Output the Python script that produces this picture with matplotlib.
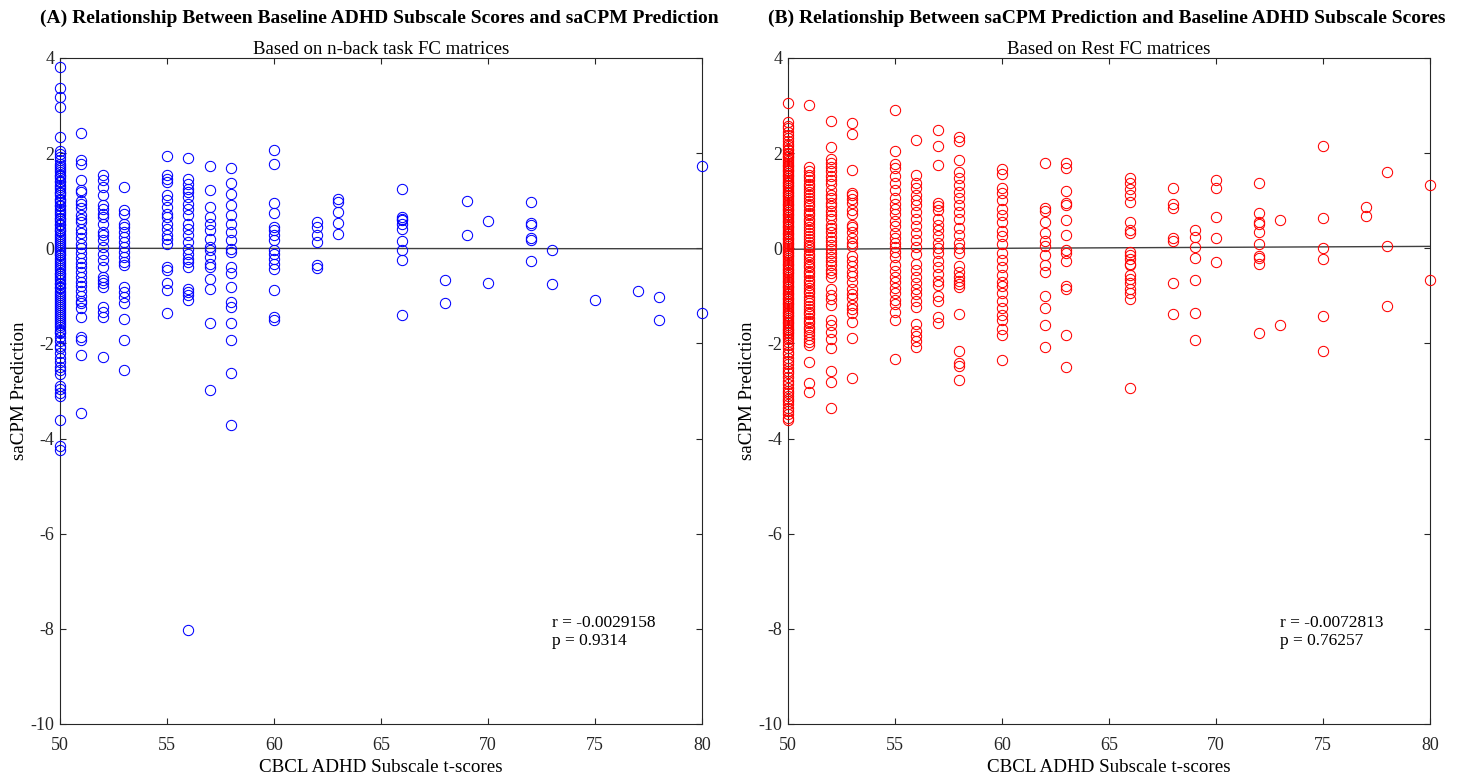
import matplotlib
matplotlib.use("Agg")
import matplotlib.pyplot as plt
import numpy as np

plt.rcParams["font.family"] = ["Liberation Serif", "DejaVu Serif"]
plt.rcParams["axes.unicode_minus"] = False

# Panel A: n-back task FC, predicted values grouped by CBCL t-score
left_values = {
    50: [3.82, 3.37, 3.17, 2.97, 2.33, 2.05, 1.98, 1.92, 1.85, 1.78,
         1.73, 1.69, 1.64, 1.61, 1.55, 1.52, 1.47, 1.41, 1.39, 1.33, 1.28, 1.25,
         1.19, 1.16, 1.11, 1.04, 1.01, 0.97, 0.92, 0.88, 0.83, 0.79, 0.75, 0.71,
         0.64, 0.61, 0.57, 0.52, 0.48, 0.43, 0.39, 0.36, 0.31, 0.25, 0.22, 0.17,
         0.13, 0.09, 0.05, 0.01, -0.03, -0.08, -0.12, -0.15, -0.21, -0.24, -0.29,
         -0.33, -0.37, -0.42, -0.46, -0.51, -0.55, -0.58, -0.63, -0.67, -0.72,
         -0.76, -0.81, -0.84, -0.89, -0.93, -0.98, -1.02, -1.06, -1.11, -1.14,
         -1.19, -1.23, -1.27, -1.32, -1.36, -1.41, -1.44, -1.49, -1.53, -1.57,
         -1.62, -1.66, -1.71, -1.75, -1.79, -1.86, -1.95, -2.05, -2.10, -2.20,
         -2.30, -2.40, -2.50, -2.55, -2.65, -2.90, -2.95, -3.05, -3.10, -3.60,
         -4.15, -4.25],
    51: [2.42, 1.86, 1.78, 1.43, 1.22, 1.18, 1.0, 0.94, 0.85, 0.7, 0.62, 0.55,
         0.4, 0.33, 0.22, 0.1, 0.0, -0.1, -0.2, -0.3, -0.4, -0.5, -0.6, -0.7,
         -0.8, -0.9, -1.0, -1.1, -1.16, -1.25, -1.44, -1.86, -1.93, -2.25, -3.47],
    52: [1.55, 1.43, 1.29, 1.11, 0.9, 0.83, 0.73, 0.66, 0.52, 0.34, 0.27, 0.17,
         0.03, -0.11, -0.25, -0.39, -0.6, -0.67, -0.74, -0.81, -1.23, -1.34,
         -1.44, -2.28],
    53: [1.29, 0.81, 0.73, 0.52, 0.45, 0.34, 0.24, 0.13, 0.03, -0.08, -0.18,
         -0.29, -0.36, -0.81, -0.92, -1.02, -1.16, -1.48, -1.93, -2.55],
    55: [1.93, 1.55, 1.46, 1.39, 1.11, 1.01, 0.87, 0.73, 0.66, 0.52, 0.41, 0.27,
         0.2, 0.1, -0.39, -0.46, -0.74, -0.88, -1.37],
    56: [1.9, 1.46, 1.36, 1.25, 1.18, 1.08, 0.94, 0.83, 0.69, 0.52, 0.41, 0.27,
         0.13, -0.01, -0.11, -0.22, -0.29, -0.39, -0.85, -0.92, -0.99, -1.09,
         -8.02],
    57: [1.74, 1.23, 0.87, 0.66, 0.52, 0.38, 0.2, 0.03, -0.04, -0.18, -0.32,
         -0.39, -0.64, -0.85, -1.58, -2.98],
    58: [1.69, 1.37, 1.15, 0.9, 0.69, 0.52, 0.34, 0.17, -0.01, -0.08, -0.39,
         -0.53, -0.81, -1.13, -1.23, -1.58, -1.93, -2.63, -3.72],
    60: [2.07, 1.78, 0.95, 0.74, 0.45, 0.38, 0.27, 0.17, -0.04, -0.11, -0.22,
         -0.32, -0.43, -0.88, -1.44, -1.51],
    62: [0.55, 0.45, 0.27, 0.13, -0.36, -0.41],
    63: [1.04, 0.97, 0.76, 0.53, 0.29],
    66: [1.25, 0.66, 0.62, 0.59, 0.52, 0.41, 0.15, -0.04, -0.25, -1.41],
    68: [-0.67, -1.14],
    69: [0.99, 0.27],
    70: [0.57, -0.74],
    72: [0.97, 0.53, 0.48, 0.22, 0.18, -0.27],
    73: [-0.04, -0.76],
    75: [-1.08],
    77: [-0.9],
    78: [-1.02, -1.5],
    80: [1.74, -1.37],
}

# Panel B: rest FC
right_values = {
    50: [3.06, 2.66, 2.58, 2.52, 2.45, 2.38, 2.31, 2.26, 2.19, 2.14,
         2.09, 2.06, 2.01, 1.98, 1.94, 1.91, 1.87, 1.83, 1.80, 1.76, 1.73, 1.69,
         1.65, 1.62, 1.59, 1.55, 1.51, 1.48, 1.44, 1.40, 1.37, 1.34, 1.30, 1.27,
         1.23, 1.19, 1.16, 1.12, 1.09, 1.05, 1.01, 0.98, 0.94, 0.91, 0.87, 0.83,
         0.80, 0.76, 0.73, 0.69, 0.65, 0.62, 0.58, 0.55, 0.51, 0.47, 0.44, 0.40,
         0.37, 0.33, 0.29, 0.26, 0.22, 0.19, 0.15, 0.11, 0.08, 0.04, 0.01, -0.03,
         -0.07, -0.10, -0.14, -0.17, -0.21, -0.25, -0.28, -0.32, -0.35, -0.39,
         -0.43, -0.46, -0.50, -0.53, -0.57, -0.61, -0.64, -0.68, -0.71, -0.75,
         -0.79, -0.82, -0.86, -0.89, -0.93, -0.97, -1.00, -1.04, -1.07, -1.11,
         -1.15, -1.18, -1.22, -1.25, -1.29, -1.33, -1.36, -1.40, -1.43, -1.47,
         -1.51, -1.54, -1.58, -1.61, -1.65, -1.69, -1.72, -1.76, -1.79, -1.83,
         -1.87, -1.90, -1.96, -2.03, -2.09, -2.17, -2.22, -2.30, -2.36, -2.44,
         -2.51, -2.57, -2.63, -2.70, -2.78, -2.86, -2.93, -2.99, -3.04, -3.10,
         -3.16, -3.22, -3.28, -3.35, -3.42, -3.49, -3.56, -3.61],
    51: [3.02, 1.71, 1.62, 1.55, 1.49, 1.43, 1.36, 1.31, 1.24, 1.18, 1.12, 1.05,
         0.99, 0.93, 0.88, 0.81, 0.75, 0.69, 0.62, 0.57, 0.51, 0.44, 0.38, 0.33,
         0.26, 0.2, 0.14, 0.07, 0.02, -0.04, -0.11, -0.16, -0.23, -0.29, -0.35,
         -0.4, -0.47, -0.53, -0.59, -0.66, -0.71, -0.78, -0.84, -0.9, -0.95,
         -1.02, -1.08, -1.14, -1.21, -1.27, -1.33, -1.39, -1.46, -1.52, -1.58,
         -1.65, -1.7, -1.76, -1.83, -1.9, -1.97, -2.04, -2.39, -2.84, -3.02],
    52: [2.67, 2.13, 1.88, 1.79, 1.71, 1.62, 1.51, 1.43, 1.35, 1.22, 1.13, 1.05,
         0.96, 0.88, 0.79, 0.7, 0.62, 0.5, 0.43, 0.35, 0.24, 0.15, 0.07, -0.02,
         -0.1, -0.18, -0.27, -0.36, -0.45, -0.52, -0.6, -0.85, -0.98, -1.07,
         -1.2, -1.5, -1.62, -1.75, -1.9, -2.1, -2.58, -2.82, -3.35],
    53: [2.63, 2.41, 1.64, 1.17, 1.12, 1.04, 0.95, 0.81, 0.73, 0.5, 0.45, 0.34,
         0.22, 0.12, 0.05, -0.17, -0.26, -0.38, -0.5, -0.58, -0.7, -0.85, -0.96,
         -1.05, -1.2, -1.28, -1.37, -1.55, -1.88, -2.72],
    55: [2.91, 2.05, 1.77, 1.68, 1.52, 1.37, 1.22, 1.05, 0.93, 0.83, 0.72, 0.58,
         0.47, 0.33, 0.22, 0.12, 0.03, -0.07, -0.18, -0.35, -0.47, -0.6, -0.7,
         -0.84, -0.95, -1.08, -1.17, -1.33, -1.5, -2.32],
    56: [2.28, 1.55, 1.37, 1.27, 1.13, 1.02, 0.9, 0.76, 0.62, 0.47, 0.32, 0.17,
         0.03, -0.13, -0.33, -0.45, -0.6, -0.74, -0.85, -0.96, -1.1, -1.24,
         -1.6, -1.73, -1.85, -1.95, -2.07],
    57: [2.48, 2.15, 1.76, 0.95, 0.89, 0.8, 0.62, 0.5, 0.39, 0.26, 0.11, 0.0,
         -0.1, -0.26, -0.4, -0.55, -0.68, -0.78, -1.0, -1.1, -1.45, -1.57],
    58: [2.34, 2.26, 1.86, 1.6, 1.48, 1.34, 1.19, 1.05, 0.9, 0.77, 0.61, 0.42,
         0.27, 0.12, 0.0, -0.1, -0.38, -0.5, -0.6, -0.68, -0.75, -0.82, -1.39,
         -2.15, -2.42, -2.47, -2.76],
    60: [1.66, 1.56, 1.27, 1.16, 1.01, 0.82, 0.7, 0.56, 0.36, 0.25, 0.1, -0.1,
         -0.25, -0.4, -0.56, -0.7, -0.8, -0.95, -1.1, -1.26, -1.4, -1.5, -1.7,
         -1.82, -2.34],
    62: [1.8, 0.85, 0.78, 0.55, 0.32, 0.16, 0.05, -0.15, -0.35, -0.5, -1.0,
         -1.26, -1.62, -2.07],
    63: [1.8, 1.69, 1.2, 0.96, 0.9, 0.6, 0.28, -0.04, -0.1, -0.26, -0.8, -0.86,
         -1.82, -2.5],
    66: [1.48, 1.37, 1.25, 1.11, 0.97, 0.55, 0.38, 0.32, -0.08, -0.15, -0.22,
         -0.32, -0.36, -0.57, -0.64, -0.74, -0.85, -0.95, -1.06, -2.93],
    68: [1.27, 0.94, 0.85, 0.22, 0.15, -0.73, -1.39],
    69: [0.38, 0.24, 0.03, -0.2, -0.66, -1.36, -1.92],
    70: [1.43, 1.27, 0.66, 0.22, -0.29],
    72: [1.37, 0.74, 0.55, 0.52, 0.34, 0.1, -0.16, -0.2, -0.34, -1.79],
    73: [0.6, -1.62],
    75: [2.16, 0.63, 0.0, -0.22, -1.42, -2.16],
    77: [0.87, 0.67],
    78: [1.6, 0.04, -1.22],
    80: [1.32, -0.66],
}

# least-squares line ends (x = 50 and x = 80)
fit_x = [50, 80]
left_fit = [0.0, -0.01]
right_fit = [-0.02, 0.04]

panels = [
    {
        "values": left_values,
        "fit": left_fit,
        "color": "blue",
        "title": "(A) Relationship Between Baseline ADHD Subscale Scores and saCPM Prediction",
        "subtitle": "Based on n-back task FC matrices",
        "stats": "r = -0.0029158\np = 0.9314",
    },
    {
        "values": right_values,
        "fit": right_fit,
        "color": "red",
        "title": "(B) Relationship Between saCPM Prediction and Baseline ADHD Subscale Scores",
        "subtitle": "Based on Rest FC matrices",
        "stats": "r = -0.0072813\np = 0.76257",
    },
]

fig = plt.figure(figsize=(14.57, 7.77), dpi=100)
lefts = [60 / 1457, 788 / 1457]

for left, panel in zip(lefts, panels):
    ax = fig.add_axes([left, 53 / 777, 642 / 1457, 666 / 777])

    xs = []
    ys = []
    for score, preds in panel["values"].items():
        xs.extend([score] * len(preds))
        ys.extend(preds)

    ax.plot(xs, ys, "o", ms=7.4, mfc="none", mec=panel["color"], mew=0.75,
            clip_on=False, zorder=3)
    ax.plot(fit_x, panel["fit"], color="#404040", lw=1.0, zorder=2)

    ax.set_xlim(50, 80)
    ax.set_ylim(-10, 4)
    ax.set_xticks(np.arange(50, 81, 5))
    ax.set_yticks(np.arange(-10, 5, 2))
    ax.tick_params(direction="in", top=True, right=True, length=4,
                   labelsize=13, width=0.8, colors="#262626")
    ax.tick_params(axis="x", pad=9)
    ax.tick_params(axis="y", pad=4)
    for spine in ax.spines.values():
        spine.set_linewidth(0.8)
        spine.set_color("#262626")

    ax.set_xlabel("CBCL ADHD Subscale t-scores", fontsize=13.7, labelpad=4)
    ax.set_ylabel("saCPM Prediction", fontsize=13.7, labelpad=2)
    ax.set_title(panel["subtitle"], fontsize=13.5, pad=3)

    ax.text(73, -8.06, panel["stats"], fontsize=12.5, va="center", ha="left",
            linespacing=1.2)

    cx = left + 319 / 1457
    fig.text(cx, 1 - 18 / 777, panel["title"], fontsize=14, fontweight="bold",
             ha="center", va="center")

fig.savefig("out.png", dpi=100)
